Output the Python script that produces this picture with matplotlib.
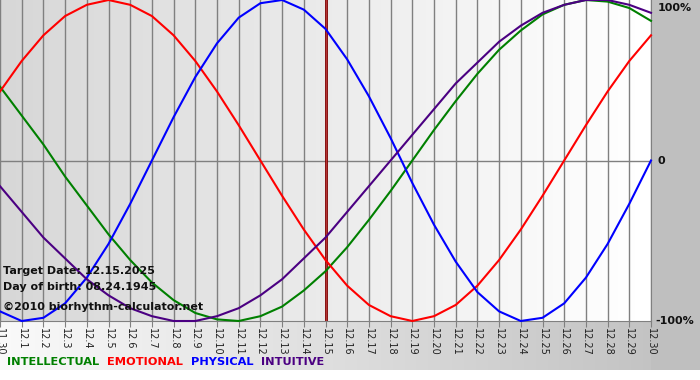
import numpy as np
import matplotlib
matplotlib.use("Agg")
import matplotlib.pyplot as plt

# ---- data ----
dates = ["11.30"] + [f"12.{i}" for i in range(1, 31)]
physical = [-0.94, -1.00, -0.98, -0.89, -0.73, -0.52, -0.27, 0.00, 0.27, 0.52, 0.73,
            0.89, 0.98, 1.00, 0.94, 0.82, 0.63, 0.40, 0.14, -0.14, -0.40, -0.63,
            -0.82, -0.94, -1.00, -0.98, -0.89, -0.73, -0.52, -0.27, 0.00]
emotional = [0.43, 0.62, 0.78, 0.90, 0.97, 1.00, 0.97, 0.90, 0.78, 0.62, 0.43,
             0.22, 0.00, -0.22, -0.43, -0.62, -0.78, -0.90, -0.97, -1.00, -0.97,
             -0.90, -0.78, -0.62, -0.43, -0.22, 0.00, 0.22, 0.43, 0.62, 0.78]
intellectual = [0.46, 0.28, 0.10, -0.10, -0.28, -0.46, -0.62, -0.76, -0.87, -0.95,
                -0.99, -1.00, -0.97, -0.91, -0.81, -0.69, -0.54, -0.37, -0.19, 0.00,
                0.19, 0.37, 0.54, 0.69, 0.81, 0.91, 0.97, 1.00, 0.99, 0.95, 0.87]
intuitive = [-0.16, -0.32, -0.48, -0.61, -0.74, -0.84, -0.92, -0.97, -1.00, -1.00,
             -0.97, -0.92, -0.84, -0.74, -0.61, -0.48, -0.32, -0.16, 0.00, 0.16,
             0.32, 0.48, 0.61, 0.74, 0.84, 0.92, 0.97, 1.00, 1.00, 0.97, 0.92]
target_index = 15
series = [("INTELLECTUAL", intellectual, "#008000"),
          ("EMOTIONAL", emotional, "#ff0000"),
          ("PHYSICAL", physical, "#0000ff"),
          ("INTUITIVE", intuitive, "#4b0082")]

W, H = 700, 380
fig = plt.figure(figsize=(W / 100, H / 100), dpi=100)
fig.patch.set_facecolor("white")

# ---- background panels ----
bg = fig.add_axes([0, 0, 1, 1], zorder=-10)
bg.set_xlim(0, W); bg.set_ylim(H, 0); bg.axis("off")
img = np.ones((H, W, 3))
xs = np.linspace(0, 1, W)
strip = 0.98 - (0.98 - 0.75) * xs  # white -> gray
img[321:370, :, :] = strip[None, :, None]
img[0:370, 651:, :] = 0.75
bg.imshow(img, extent=(0, W, H, 0), aspect="auto", interpolation="bilinear")

# ---- main axes ----
x0, x1 = 0, 651
y0, y1 = 0, 321
ax = fig.add_axes([x0 / W, 1 - y1 / H, (x1 - x0) / W, (y1 - y0) / H])
n = len(dates)
xv = np.arange(n)
grad = np.linspace(0.84, 1.0, 200)[None, :]
ax.imshow(np.repeat(grad, 2, axis=0), cmap="gray", vmin=0, vmax=1,
          extent=(0, n - 1, -1, 1), aspect="auto", zorder=0)
ax.set_xlim(0, n - 1)
ax.set_ylim(-1, 1)
for i in xv:
    ax.axvline(i, color="#808080", lw=1.0, zorder=1)
ax.axhline(0, color="#808080", lw=1.0, zorder=1)
ax.axvline(target_index, color="#800000", lw=2.0, zorder=2)
ax.axvline(target_index, color="#c04040", lw=0.6, zorder=2)

for name, vals, col in series:
    ax.plot(xv, vals, color=col, lw=1.5, zorder=3, clip_on=False,
            solid_joinstyle="round")

for s in ["top", "left"]:
    ax.spines[s].set_visible(False)
ax.spines["right"].set_color("#808080")
ax.spines["bottom"].set_color("#808080")
ax.set_yticks([])
ax.set_xticks(xv)
ax.set_xticklabels(dates, rotation=270, fontsize=7, color="#222222",
                   family="DejaVu Sans")
ax.tick_params(axis="x", length=4, color="#808080", pad=1)

# ---- annotations ----
tk = dict(fontsize=8, fontweight="bold", color="#111111", family="DejaVu Sans")
fig.text(3 / W, 1 - 271 / H, "Target Date: 12.15.2025", va="center", ha="left", **tk)
fig.text(3 / W, 1 - 287 / H, "Day of birth: 08.24.1945", va="center", ha="left", **tk)
fig.text(3 / W, 1 - 307 / H, "\u00a92010 biorhythm-calculator.net", va="center", ha="left", **tk)

fig.text(658 / W, 1 - 8 / H, "100%", va="center", ha="left", **tk)
fig.text(658 / W, 1 - 161 / H, "0", va="center", ha="left", **tk)
fig.text(655 / W, 1 - 321 / H, "-100%", va="center", ha="left", **tk)

# ---- legend row ----
xpos = 7
r = fig.canvas.get_renderer()
for name, vals, col in series:
    t = fig.text(xpos / W, 1 - 362 / H, name, color=col, fontsize=8.2,
                 fontweight="bold", family="DejaVu Sans", va="center", ha="left")
    bb = t.get_window_extent(renderer=r)
    xpos += bb.width + 8

fig.savefig("out.png", dpi=100)
